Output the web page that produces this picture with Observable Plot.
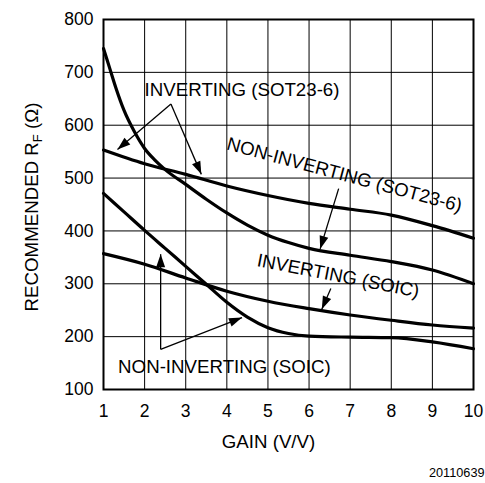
<!DOCTYPE html>
<html><head><meta charset="utf-8">
<script src="https://cdn.jsdelivr.net/npm/d3@7"></script>
<script src="https://cdn.jsdelivr.net/npm/@observablehq/plot@0.6"></script>
<style>body{margin:0;background:#fff;}</style>
</head><body><div id="chart"></div>
<script>
// ---- data ----
const gainTicks = [1, 2, 3, 4, 5, 6, 7, 8, 9, 10];
const rfTicks = [100, 200, 300, 400, 500, 600, 700, 800];

const nonInvSot23Gain = [1, 1.15, 1.3, 1.5, 1.75, 2, 2.25, 2.5, 3, 3.5, 4, 4.5, 5, 5.5, 6, 7, 8, 9, 10];
const nonInvSot23Rf   = [745, 708, 671, 628, 588, 556, 534, 516, 488, 460, 434, 411, 392, 378, 367, 354, 342, 326, 300];

const invSot23Gain = [1, 2, 3, 4, 5, 6, 7, 8, 9, 10];
const invSot23Rf   = [553, 527, 507, 485, 467, 452, 441, 430, 410, 386];

const nonInvSoicGain = [1, 1.5, 2, 2.5, 3, 3.5, 4, 4.5, 5, 5.5, 6, 7, 8, 9, 10];
const nonInvSoicRf   = [471, 436, 401, 367, 333, 299, 265, 237, 217, 206, 201, 199, 198, 190, 177];

const invSoicGain = [1, 2, 3, 4, 5, 6, 7, 8, 9, 10];
const invSoicRf   = [357, 337, 311, 286, 267, 253, 241, 231, 222, 216];

const labelTexts = ["INVERTING (SOT23-6)", "NON-INVERTING (SOT23-6)", "INVERTING (SOIC)", "NON-INVERTING (SOIC)"];
const labelGain = [4.37, 6.86, 6.71, 3.94];
const labelRf = [666, 506, 315, 143];
const labelAngle = [0, 15, 11, 0];

const arrowFromGain = [2.64, 2.64, 6.72, 6.53, 2.39, 2.39];
const arrowFromRf   = [640, 640, 480, 291, 176, 176];
const arrowToGain   = [1.34, 3.38, 6.27, 6.31, 2.39, 4.37];
const arrowToRf     = [554, 507, 366, 252, 356, 236];

const xLabel = "GAIN (V/V)";
const figureId = "20110639";

// ---- layout ----
const W = 485, H = 483, mL = 103, mR = 12, mT = 19, mB = 94;
const xs = d3.scaleLinear([1, 10], [mL, W - mR]);
const ys = d3.scaleLinear([100, 800], [H - mB, mT]);

const series = (name, g, r) => g.map((v, i) => ({series: name, gain: v, rf: r[i]}));
const curves = [
  ...series("nonInvSot23", nonInvSot23Gain, nonInvSot23Rf),
  ...series("invSot23", invSot23Gain, invSot23Rf),
  ...series("nonInvSoic", nonInvSoicGain, nonInvSoicRf),
  ...series("invSoic", invSoicGain, invSoicRf)
];
const labels = labelTexts.map((t, i) => ({text: t, gain: labelGain[i], rf: labelRf[i], angle: labelAngle[i]}));
const arrows = arrowFromGain.map((g, i) => {
  const dx = xs(arrowToGain[i]) - xs(g);
  const dy = ys(arrowToRf[i]) - ys(arrowFromRf[i]);
  return {x1: g, y1: arrowFromRf[i], x2: arrowToGain[i], y2: arrowToRf[i], angle: Math.atan2(dx, -dy) * 180 / Math.PI};
});

const arrowHead = {draw(ctx) { ctx.moveTo(0, 0); ctx.lineTo(-4.5, 13); ctx.lineTo(4.5, 13); ctx.closePath(); }};

const plot = Plot.plot({
  width: W, height: H,
  marginLeft: mL, marginRight: mR, marginTop: mT, marginBottom: mB,
  style: {fontFamily: "'Liberation Sans', Arial, sans-serif", fontSize: "17.5px", color: "black", background: "white"},
  x: {domain: [1, 10], ticks: gainTicks, tickSize: 0, tickPadding: 15, label: null},
  y: {domain: [100, 800], ticks: rfTicks, tickSize: 0, tickPadding: 10, label: null},
  marks: [
    Plot.gridX(gainTicks, {stroke: "black", strokeOpacity: 1, strokeWidth: 1}),
    Plot.gridY(rfTicks, {stroke: "black", strokeOpacity: 1, strokeWidth: 1}),
    Plot.frame({stroke: "black", strokeWidth: 2}),
    Plot.line(curves, {x: "gain", y: "rf", z: "series", stroke: "black", strokeWidth: 3.2, curve: "monotone-x"}),
    Plot.link(arrows, {x1: "x1", y1: "y1", x2: "x2", y2: "y2", stroke: "black", strokeWidth: 1.3}),
    Plot.dot(arrows, {x: "x2", y: "y2", rotate: "angle", symbol: arrowHead, r: 5, fill: "black", stroke: "none"}),
    Plot.text(labels, {x: "gain", y: "rf", text: "text", rotate: "angle", fontSize: 18.7, fill: "black"}),
    Plot.text([xLabel], {text: d => d, frameAnchor: "bottom", dx: -20, dy: 58, fontSize: 18.7, fill: "black"}),
    Plot.text([figureId], {text: d => d, frameAnchor: "bottom-right", dx: 11, dy: 87, textAnchor: "end", fontSize: 12.7, fill: "black"})
  ]
});

// rotated y-axis title with subscript
const svg = d3.select(plot);
const t = svg.append("text")
  .attr("transform", "translate(38,207) rotate(-90)")
  .attr("text-anchor", "middle")
  .attr("font-size", 18.7)
  .attr("fill", "black");
t.append("tspan").text("RECOMMENDED R");
t.append("tspan").attr("font-size", 13).attr("dy", 4).text("F");
t.append("tspan").attr("dy", -4).text(" (Ω)");

document.getElementById("chart").appendChild(plot);
</script>
</body></html>
